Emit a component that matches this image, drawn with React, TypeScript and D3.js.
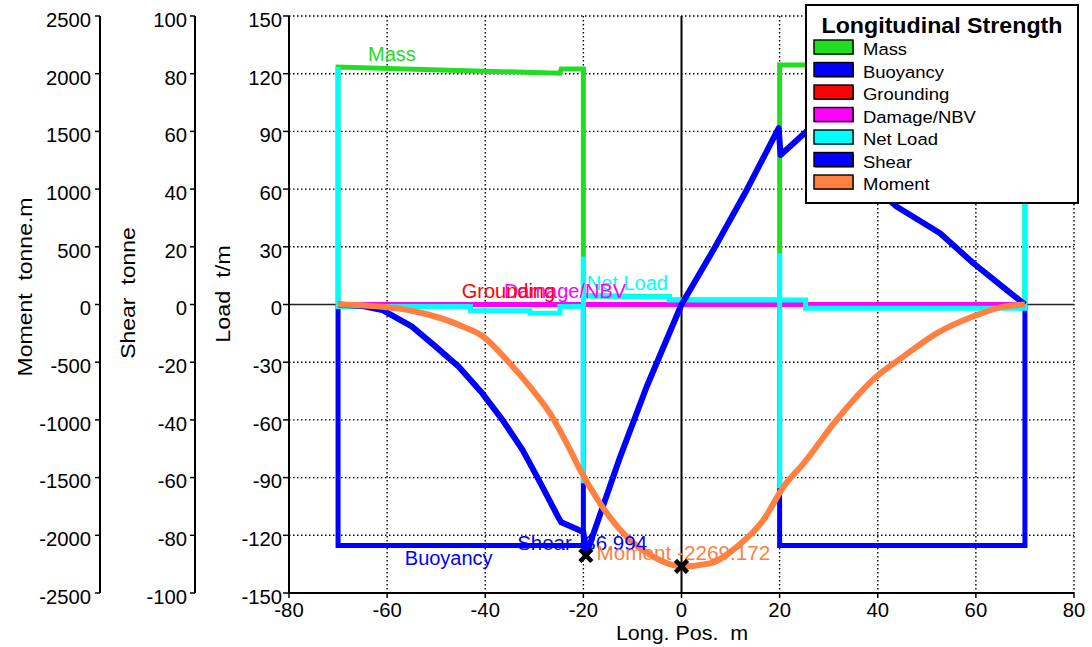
import React from "react";
import * as d3 from "d3";

// ---------- data ----------
const X_TICKS = [-80, -60, -40, -20, 0, 20, 40, 60, 80];
const LOAD_TICKS = [150, 120, 90, 60, 30, 0, -30, -60, -90, -120, -150];
const SHEAR_TICKS = [100, 80, 60, 40, 20, 0, -20, -40, -60, -80, -100];
const MOMENT_TICKS = [2500, 2000, 1500, 1000, 500, 0, -500, -1000, -1500, -2000, -2500];

// Load series (t/m) : [x, value]
const massData: [number, number][] = [
  [-70, 0], [-70, 123.5], [-24.8, 120.2], [-24.5, 122.5], [-20, 122.5], [-20, 4.5],
  [-2.5, 4], [-2.5, 2.3], [20, 2.3], [20, 124.5], [70, 124.5], [70, 0],
];
const buoyancyData: [number, number][] = [
  [-70, 0], [-70, -125.3], [-20, -125.3], [-20, 0], [20, 0], [20, -125.3], [70, -125.3], [70, 0],
];
const groundingData: [number, number][] = [[-70, 0], [70, 0]];
const damageData: [number, number][] = [[-70, 0], [70, 0]];
const netLoadData: [number, number][] = [
  [-70, 0], [-70, 123.5], [-70, -1.1], [-43, -1.1], [-43, -3.2], [-30.9, -3.2], [-30.9, -4.6],
  [-24.8, -4.6], [-24.8, -1.1], [-20, -1.1], [-20, 25], [-20, -93], [-20, 4.5], [-10, 4],
  [-2.5, 4], [-2.5, 2.3], [20, 2.3], [20, 26.6], [20, -95.6], [20, 2.3], [25.3, 2.3],
  [25.3, -2], [70, -2], [70, 124.5], [70, 0],
];
// Shear (tonne)
const shearData: [number, number][] = [
  [-70, 0], [-65, -0.5], [-61, -1.9], [-54.9, -7.7], [-50.1, -14.6], [-45.4, -21.6],
  [-40.6, -30.8], [-36.5, -40], [-32.4, -50.4], [-29.1, -60.8], [-25, -74.1], [-24.5, -75.5],
  [-20.9, -78.2], [-20, -79], [-19.5, -86.994], [-12.5, -52.8], [-7.1, -28.5], [0, 0],
  [6.5, 18.9], [13.3, 39.7], [19.8, 61.1], [20.2, 51.8], [25.4, 59.9], [35, 46.5],
  [43.9, 33.9], [52.7, 24.7], [59.5, 14.3], [66.3, 5], [70, 0],
];
// Moment (tonne.m)
const momentData: [number, number][] = [
  [-70, 0], [-64, -10], [-58, -33], [-51.3, -91], [-44.5, -192], [-40.4, -279], [-35.6, -481],
  [-30.9, -712], [-26.8, -943], [-22.7, -1260], [-20.7, -1430], [-16.6, -1723], [-11.2, -2012],
  [-5.7, -2186], [0, -2269.172], [5.8, -2243], [11.3, -2099], [16.7, -1868], [20.8, -1579],
  [24.9, -1376], [31.6, -1001], [39.7, -626], [45.2, -452], [52, -250], [60.2, -91],
  [65, -25], [70, 0],
];

const LEGEND_NAMES = ["Mass", "Buoyancy", "Grounding", "Damage/NBV", "Net Load", "Shear", "Moment"];
const LEGEND_COLORS = ["#22dd22", "#0000ff", "#ff0000", "#ff00ff", "#00ffff", "#0000ff", "#ff8040"];

const shearMin: [number, number] = [-19.5, -86.994];
const momentMin: [number, number] = [0, -2269.172];

// ---------- layout ----------
const W = 1092, H = 647;
const FONT = "'Liberation Sans', Arial, Helvetica, sans-serif";

const x = d3.scaleLinear().domain([-80, 80]).range([289, 1074]);
const yLoad = d3.scaleLinear().domain([-150, 150]).range([593, 16]);
const yShear = d3.scaleLinear().domain([-100, 100]).range([593, 16]);
const yMoment = d3.scaleLinear().domain([-2500, 2500]).range([593, 16]);

function T(props: {
  x: number; y: number; text: string; size: number; anchor?: string; fill?: string;
  sx?: number; weight?: string | number; rotate?: number;
}) {
  const { x: tx, y: ty, text, size, anchor = "start", fill = "#000", sx = 1, weight = "normal", rotate = 0 } = props;
  return (
    <text
      transform={`translate(${tx},${ty}) rotate(${rotate}) scale(${sx},1)`}
      fontSize={size}
      fontFamily={FONT}
      fontWeight={weight}
      textAnchor={anchor}
      fill={fill}
      style={{ whiteSpace: "pre" }}
    >
      {text}
    </text>
  );
}

function Cross({ cx, cy }: { cx: number; cy: number }) {
  const s = 6;
  return (
    <g stroke="#000" strokeWidth={4.5} strokeLinecap="butt">
      <line x1={cx - s} y1={cy - s} x2={cx + s} y2={cy + s} />
      <line x1={cx - s} y1={cy + s} x2={cx + s} y2={cy - s} />
    </g>
  );
}

export default function App() {
  const loadLine = d3.line<[number, number]>().x((d) => x(d[0])).y((d) => yLoad(d[1]));
  const shearLine = d3.line<[number, number]>().x((d) => x(d[0])).y((d) => yShear(d[1]));
  const momentLine = d3
    .line<[number, number]>()
    .x((d) => x(d[0]))
    .y((d) => yMoment(d[1]))
    .curve(d3.curveMonotoneX);

  const top = yLoad(150), bottom = yLoad(-150), left = x(-80), right = x(80);
  const dot = "1.5,2.5";

  const legendX = 806, legendY = 5, legendW = 272, legendH = 198;

  return (
    <svg width={W} height={H} style={{ position: "absolute", left: 0, top: 0, background: "#fff" }}>
      <rect x={0} y={0} width={W} height={H} fill="#fff" />

      {/* grid */}
      <g stroke="#000" strokeWidth={1.4} strokeDasharray={dot}>
        {X_TICKS.filter((t) => t !== -80 && t !== 0).map((t) => (
          <line key={"gx" + t} x1={x(t)} x2={x(t)} y1={top} y2={bottom} />
        ))}
        {LOAD_TICKS.filter((t) => t !== 0 && t !== -150).map((t) => (
          <line key={"gy" + t} x1={left} x2={right} y1={yLoad(t)} y2={yLoad(t)} />
        ))}
      </g>
      {/* zero lines */}
      <line x1={left} x2={right} y1={yLoad(0)} y2={yLoad(0)} stroke="#222" strokeWidth={1.5} />
      <line x1={x(0)} x2={x(0)} y1={top} y2={bottom} stroke="#000" strokeWidth={2} />

      {/* load series */}
      <path d={loadLine(massData) || ""} fill="none" stroke={LEGEND_COLORS[0]} strokeWidth={5} />
      <path d={loadLine(buoyancyData) || ""} fill="none" stroke={LEGEND_COLORS[1]} strokeWidth={5} />
      <path d={loadLine(groundingData) || ""} fill="none" stroke={LEGEND_COLORS[2]} strokeWidth={5} />
      <path d={loadLine(damageData) || ""} fill="none" stroke={LEGEND_COLORS[3]} strokeWidth={5} />
      <path d={loadLine(netLoadData) || ""} fill="none" stroke={LEGEND_COLORS[4]} strokeWidth={5} />
      <path d={shearLine(shearData) || ""} fill="none" stroke={LEGEND_COLORS[5]} strokeWidth={6} strokeLinejoin="round" />
      <path d={momentLine(momentData) || ""} fill="none" stroke={LEGEND_COLORS[6]} strokeWidth={6} />

      {/* annotations */}
      <T x={x(-63.9)} y={yLoad(126.6)} text="Mass" size={20} fill={LEGEND_COLORS[0]} />
      <T x={x(-19.3)} y={yLoad(7.5)} text="Net Load" size={20} fill={LEGEND_COLORS[4]} />
      <T x={x(-36.2)} y={yLoad(3.4)} text="Damage/NBV" size={20} fill={LEGEND_COLORS[3]} />
      <T x={x(-44.8)} y={yLoad(3.4)} text="Grounding" size={20} fill={LEGEND_COLORS[2]} />
      <T x={x(-56.4)} y={yLoad(-135.5)} text="Buoyancy" size={20} fill={LEGEND_COLORS[1]} />
      <T x={x(-33.5)} y={yLoad(-127.7)} text={`Shear ${shearMin[1].toFixed(3)}`} size={20.5} fill={LEGEND_COLORS[5]} />
      <T x={x(-17.3)} y={yLoad(-132.9)} text={`Moment ${momentMin[1].toFixed(3)}`} size={20.7} fill={LEGEND_COLORS[6]} />
      <Cross cx={x(shearMin[0])} cy={yShear(shearMin[1])} />
      <Cross cx={x(momentMin[0])} cy={yMoment(momentMin[1])} />

      {/* legend */}
      <rect x={legendX} y={legendY} width={legendW} height={legendH} fill="#fff" stroke="#000" strokeWidth={2} />
      <T x={legendX + legendW / 2} y={33} text="Longitudinal Strength" size={21.5} weight="bold" anchor="middle" sx={1.08} />
      {LEGEND_NAMES.map((n, i) => {
        const ty = 40 + i * 22.5;
        return (
          <g key={n}>
            <rect x={815} y={ty + 1} width={39} height={14} fill={LEGEND_COLORS[i]} />
            <rect x={814} y={ty} width={39} height={14} fill={LEGEND_COLORS[i]} stroke="#000" strokeWidth={1.4} />
            <T x={863} y={ty + 15.3} text={n} size={16.8} sx={1.1} />
          </g>
        );
      })}

      {/* axes */}
      <g stroke="#000" strokeWidth={2}>
        <line x1={left} x2={left} y1={top} y2={bottom} />
        <line x1={left} x2={right} y1={bottom} y2={bottom} />
        <line x1={195} x2={195} y1={top} y2={bottom} />
        <line x1={100} x2={100} y1={top} y2={bottom} />
      </g>
      <g stroke="#000" strokeWidth={1.5}>
        {LOAD_TICKS.map((t) => (
          <line key={"lt" + t} x1={left - 6} x2={left} y1={yLoad(t)} y2={yLoad(t)} />
        ))}
        {SHEAR_TICKS.map((t) => (
          <line key={"st" + t} x1={190} x2={195} y1={yShear(t)} y2={yShear(t)} />
        ))}
        {MOMENT_TICKS.map((t) => (
          <line key={"mt" + t} x1={95} x2={100} y1={yMoment(t)} y2={yMoment(t)} />
        ))}
        {X_TICKS.map((t) => (
          <line key={"xt" + t} x1={x(t)} x2={x(t)} y1={bottom} y2={bottom + 5} />
        ))}
      </g>
      {LOAD_TICKS.map((t) => (
        <T key={"ll" + t} x={282} y={yLoad(t) + 10.8} text={String(t)} size={19.5} anchor="end" sx={1.04} />
      ))}
      {SHEAR_TICKS.map((t) => (
        <T key={"sl" + t} x={187} y={yShear(t) + 10.8} text={String(t)} size={19.5} anchor="end" sx={1.04} />
      ))}
      {MOMENT_TICKS.map((t) => (
        <T key={"ml" + t} x={91} y={yMoment(t) + 10.8} text={String(t)} size={19.5} anchor="end" sx={1.04} />
      ))}
      {X_TICKS.map((t) => (
        <T key={"xl" + t} x={x(t)} y={617} text={String(t)} size={19.5} anchor="middle" sx={1.04} />
      ))}

      {/* axis titles */}
      <T x={682} y={640} text="Long. Pos.  m" size={19.5} anchor="middle" sx={1.1} />
      <T x={32} y={287} text="Moment  tonne.m" size={20} anchor="middle" rotate={-90} sx={1.15} />
      <T x={135} y={293} text="Shear  tonne" size={20} anchor="middle" rotate={-90} sx={1.15} />
      <T x={230} y={294} text="Load  t/m" size={20} anchor="middle" rotate={-90} sx={1.17} />
    </svg>
  );
}
